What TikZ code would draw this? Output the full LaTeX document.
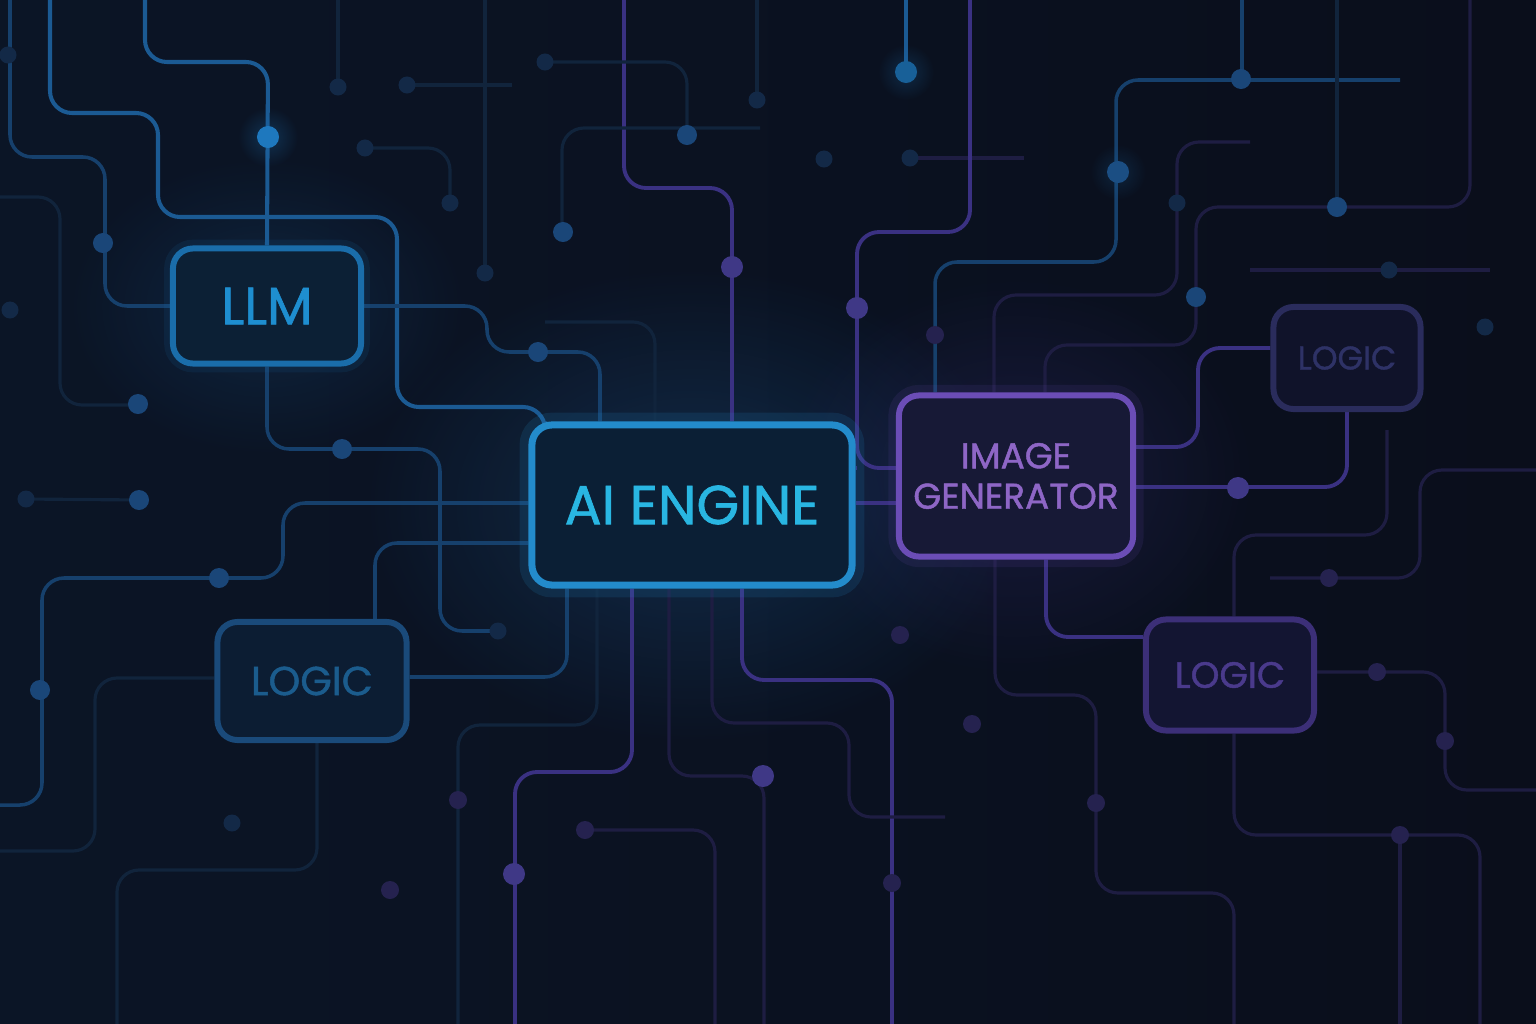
\documentclass[tikz,border=0pt]{standalone}
\usepackage{fontspec}
\setmainfont{Poppins}[FakeBold=1.2]
\usetikzlibrary{fadings}

\pgfdeclarelayer{back}
\pgfsetlayers{back,main}

\tikzfading[name=glowfade, inner color=transparent!0, outer color=transparent!100]

\definecolor{bgleft}{HTML}{0B1526}
\definecolor{bgright}{HTML}{0A0E1B}
\definecolor{trblue}{HTML}{1B5A93}
\definecolor{trmid}{HTML}{16406C}
\definecolor{trdim}{HTML}{11243C}
\definecolor{trviolet}{HTML}{3A3182}
\definecolor{trvdim}{HTML}{1E1D42}
\definecolor{padbright}{HTML}{1E78BE}
\definecolor{padmid}{HTML}{1A4678}
\definecolor{paddim}{HTML}{132947}
\definecolor{padviolet}{HTML}{3F3886}
\definecolor{padvdim}{HTML}{25224F}
% box colours
\definecolor{llmline}{HTML}{1A6DAA}
\definecolor{llmfill}{HTML}{0C2035}
\definecolor{llmtext}{HTML}{1E8ED0}
\definecolor{ailine}{HTML}{238BCB}
\definecolor{aifill}{HTML}{0B1F35}
\definecolor{aitext}{HTML}{29B6E2}
\definecolor{igline}{HTML}{6B4DB6}
\definecolor{igfill}{HTML}{171936}
\definecolor{igtext}{HTML}{8E66C6}
\definecolor{ltrline}{HTML}{2A2C5C}
\definecolor{ltrfill}{HTML}{10132A}
\definecolor{ltrtext}{HTML}{2E3266}
\definecolor{lbrline}{HTML}{3C2F78}
\definecolor{lbrfill}{HTML}{131532}
\definecolor{lbrtext}{HTML}{4A3A8C}
\definecolor{llline}{HTML}{1A4A7A}
\definecolor{llfill}{HTML}{0C1D33}
\definecolor{lltext}{HTML}{1B5C8D}

\begin{document}
\begin{tikzpicture}[x=0.01cm,y=-0.01cm]
\tikzstyle{box}=[rectangle,rounded corners=0.2cm,align=center,line width=1.7pt]
\tikzstyle{trace}=[draw=trblue,line width=1.15pt,rounded corners=0.22cm]
\tikzstyle{tracemid}=[draw=trmid,line width=1pt,rounded corners=0.22cm]
\tikzstyle{tracedim}=[draw=trdim,line width=0.9pt,rounded corners=0.22cm]
\tikzstyle{traceviolet}=[draw=trviolet,line width=1.1pt,rounded corners=0.22cm]
\tikzstyle{tracevdim}=[draw=trvdim,line width=0.9pt,rounded corners=0.22cm]
\useasboundingbox (0,0) rectangle (1536,1024);

% the six blocks
\node (llm) [box,draw=llmline,fill=llmfill,text=llmtext,minimum width=1.88cm,minimum height=1.15cm,
  font=\fontsize{15}{17}\selectfont,preaction={draw=llmline,line width=5pt,opacity=0.12}] at (267,306) {LLM};
\node (ai) [box,draw=ailine,fill=aifill,text=aitext,line width=2pt,minimum width=3.2cm,minimum height=1.6cm,
  font=\fontsize{15.6}{18}\selectfont,preaction={draw=ailine,line width=7pt,opacity=0.15}] at (692,505) {AI ENGINE};
\node (ig) [box,draw=igline,fill=igfill,text=igtext,minimum width=2.34cm,minimum height=1.61cm,
  font=\fontsize{10.2}{11.5}\selectfont,preaction={draw=igline,line width=6pt,opacity=0.12}] at (1016,476) {IMAGE\\GENERATOR};
\node (logtr) [box,draw=ltrline,fill=ltrfill,text=ltrtext,minimum width=1.47cm,minimum height=1.02cm,
  font=\fontsize{9.3}{12}\selectfont] at (1347,358) {LOGIC};
\node (logbr) [box,draw=lbrline,fill=lbrfill,text=lbrtext,minimum width=1.68cm,minimum height=1.11cm,
  font=\fontsize{10.4}{13}\selectfont] at (1230,675) {LOGIC};
\node (logl) [box,draw=llline,fill=llfill,text=lltext,minimum width=1.89cm,minimum height=1.18cm,
  font=\fontsize{11.5}{13}\selectfont] at (312,681) {LOGIC};

\begin{pgfonlayer}{back}
\fill[left color=bgleft,right color=bgright] (0,0) rectangle (1536,1024);
% soft glows
\fill[color=trblue,opacity=0.35,path fading=glowfade] (692,505) ellipse (3.3cm and 2.4cm);
\fill[color=trviolet,opacity=0.3,path fading=glowfade] (1016,476) ellipse (2.4cm and 2cm);
\fill[color=trblue,opacity=0.25,path fading=glowfade] (267,306) ellipse (2cm and 1.5cm);

% traces round the LLM block
\draw[trace] (145,0) |- (268,62) -- (llm.north);
\draw[trace] (50,0) |- (158,113) |- (397,217) |- (545,407) -- (ai.north -| 545,0);
\draw[tracemid] (llm.east) -- (487,306) |- (600,352) -- (ai.north -| 600,0);
\draw[tracemid] (llm.west) -| (105,157) -| (10,0);
\draw[tracemid] (llm.south) |- (440,449) |- (498,631);
\draw[tracedim] (0,197) -| (60,405) -- (138,405);
\draw[tracedim] (365,148) -| (450,203);
\draw[tracedim] (338,0) -- (338,87);
\draw[tracedim] (407,85) -- (512,85);
\draw[tracedim] (485,0) -- (485,273);
\draw[tracedim] (26,499) -- (139,500);

% left of the engine
\draw[tracemid] (ai.west |- 0,503) -| (283,578) -| (42,805) -- (0,805);
\draw[tracemid] (ai.west |- 0,543) -| (logl.north -| 375,0);
\draw[tracemid] (logl.east |- 0,677) -| (ai.south -| 567,0);
\draw[tracedim] (logl.west |- 0,678) -| (95,851) -- (0,851);
\draw[tracedim] (logl.south -| 317,0) |- (117,870) -- (117,1024);

% below the engine
\draw[traceviolet] (ai.south -| 632,0) |- (515,772) -- (515,1024);
\draw[traceviolet] (ai.south -| 742,0) |- (892,680) -- (892,1024);
\draw[tracevdim] (ai.south -| 669,0) |- (764,776) -- (764,1024);
\draw[tracevdim] (ai.south -| 712,0) |- (849,723) |- (945,817);
\draw[tracedim] (ai.south -| 597,0) |- (458,725) -- (458,1024);
\draw[tracevdim] (585,830) -| (715,1024);

% above the engine
\draw[traceviolet] (624,0) |- (732,188) -- (ai.north -| 732,0);
\draw[tracedim] (ai.north -| 655,0) |- (545,322);
\draw[tracedim] (562,232) |- (760,128);
\draw[tracedim] (687,130) |- (545,62);
\draw[tracedim] (757,0) -- (757,100);
\draw[trace] (906,0) -- (906,72);
\draw[tracevdim] (910,158) -- (1024,158);

% engine to image generator
\draw[traceviolet] (970,0) |- (857,232) |- (ig.west |- 0,468);
\draw[traceviolet] (ai.east |- 0,468) -- (857,468);
\draw[traceviolet] (ai.east |- 0,503) -- (ig.west |- 0,503);

% image generator and the right side
\draw[tracemid] (ig.north -| 935,0) |- (1116,262) |- (1400,80);
\draw[tracemid] (1242,0) -- (1242,79);
\draw[tracevdim] (ig.north -| 1045,0) |- (1196,345) |- (1470,207) -- (1470,0);
\draw[tracedim] (1337,0) -- (1337,207);
\draw[tracevdim] (ig.north -| 994,0) |- (1177,295) |- (1250,142);
\draw[traceviolet] (ig.east |- 0,447) -| (1198,348) -- (logtr.west |- 0,348);
\draw[traceviolet] (ig.east |- 0,487) -| (logtr.south -| 1347,0);
\draw[traceviolet] (ig.south -| 1046,0) |- (logbr.west |- 0,637);
\draw[tracevdim] (ig.south -| 995,0) |- (1096,695) |- (1234,893) -- (1234,1024);
\draw[tracevdim] (logbr.south -| 1234,0) |- (1480,835) -- (1480,1024);
\draw[tracevdim] (1400,835) -- (1400,1024);
\draw[tracevdim] (logbr.east |- 0,672) -| (1445,790) -- (1536,790);
\draw[tracevdim] (1387,430) |- (1234,535) -- (logbr.north -| 1234,0);
\draw[tracevdim] (1270,578) -| (1420,470) -- (1536,470);
\draw[tracevdim] (1250,270) -- (1490,270);

% pads
\fill[padbright,opacity=0.3,path fading=glowfade] (268,137) circle (0.3cm);
\fill[padbright] (268,137) circle (0.11cm);
\fill[padbright,opacity=0.25,path fading=glowfade] (906,72) circle (0.28cm);
\fill[padbright!80!black] (906,72) circle (0.11cm);
\fill[padbright,opacity=0.2,path fading=glowfade] (1118,172) circle (0.28cm);
\fill[padmid!85!padbright] (1118,172) circle (0.11cm);
\foreach \x/\y in {103/243,138/404,139/500,342/449,219/578,40/690,538/352,563/232,687/135,1241/79,1337/207,1196/297}
  \fill[padmid] (\x,\y) circle (0.1cm);
\foreach \x/\y in {8/55,10/310,26/499,407/85,338/87,485/273,450/203,365/148,545/62,757/100,824/159,910/158,498/631,232/823,1177/203,1389/270,1485/327}
  \fill[paddim] (\x,\y) circle (0.085cm);
\foreach \x/\y in {732/267,514/874,763/776,1238/488,857/308}
  \fill[padviolet] (\x,\y) circle (0.11cm);
\foreach \x/\y in {892/883,935/335,1096/803,972/724,900/635,458/800,585/830,390/890,1329/578,1377/672,1445/741,1400/835}
  \fill[padvdim] (\x,\y) circle (0.09cm);
\end{pgfonlayer}
\end{tikzpicture}
\end{document}
